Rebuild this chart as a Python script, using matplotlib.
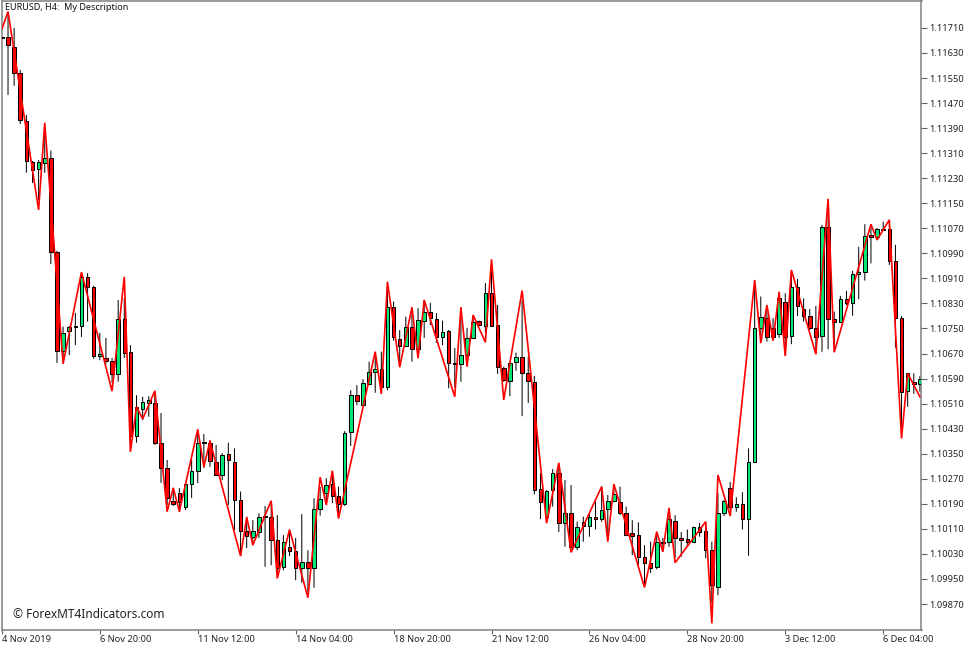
import matplotlib
matplotlib.use("Agg")
import matplotlib.pyplot as plt
import numpy as np
from matplotlib.collections import LineCollection
from matplotlib.patches import Rectangle
from matplotlib.ticker import FormatStrFormatter

# prices in points (1/100000)
opens = [111678,
 111682,111650,111565,111414,111282,111258,111280,111295,110993,
 110679,110742,110754,110759,110915,110882,110661,110656,110646,110605,
 110779,110674,110406,110492,110513,110512,110385,110303,110199,110224,
 110181,110252,110295,110383,110384,110324,110282,110349,110324,110202,
 110104,110085,110101,110150,110149,110074,109989,110053,110040,109984,
 110004,109984,110175,110223,110253,110216,110188,110420,110536,110505,
 110573,110612,110620,110564,110818,110715,110695,110756,110683,110774,
 110804,110779,110724,110742,110639,110635,110665,110721,110773,110759,
 110864,110760,110623,110583,110642,110660,110607,110580,110236,110149,
 110234,110287,110129,110161,110053,110131,110119,110147,110140,110172,
 110200,110197,110160,110096,110092,110019,110000,109989,110066,110067,
 110136,110080,110077,110069,110115,110102,110044,109923,110160,110241,
 110181,110191,110140,110324,110751,110783,110752,110731,110836,110726,
 110883,110812,110790,110751,110726,111073,110779,110772,110843,110830,
 110923,110929,111049,111042,111067,111067,110966,110783,110549,110578,
 110572]
highs = [111684,111755,111710,111576,111432,111285,111288,111375,111318,110998,
 110756,110758,110800,110921,110927,110886,110736,110720,110656,110841,
 110847,110697,110537,110532,110534,110547,110480,110330,110234,110240,
 110256,110330,110426,110413,110394,110378,110352,110385,110367,110229,
 110149,110138,110160,110183,110197,110154,110090,110106,110081,110157,
 110042,110208,110244,110272,110282,110245,110422,110553,110569,110588,
 110644,110672,110676,110899,110836,110745,110788,110815,110815,110841,
 110832,110799,110775,110745,110688,110780,110752,110793,110775,110895,
 110937,110825,110628,110644,110673,110841,110660,110598,110288,110234,
 110301,110304,110266,110250,110133,110149,110157,110197,110245,110218,
 110250,110245,110181,110138,110131,110058,110069,110097,110081,110176,
 110154,110100,110108,110117,110129,110133,110069,110224,110202,110260,
 110211,110227,110367,110878,110852,110809,110783,110867,110863,110931,
 110908,110846,110812,110822,111081,111163,110804,110854,110870,110934,
 111011,111083,111083,111071,111091,111097,111017,110790,110608,110607,
 110598]
lows = [111672,111496,111525,111403,111248,111215,111160,111247,110956,110640,
 110649,110665,110697,110723,110772,110653,110649,110637,110576,110580,
 110656,110359,110385,110458,110468,110378,110257,110186,110183,110165,
 110170,110209,110256,110304,110308,110279,110266,110186,110106,110026,
 110049,110058,110081,109989,109994,109953,109978,110023,109946,109938,
 109909,109922,110152,110197,110192,110160,110184,110375,110505,110504,
 110569,110545,110544,110553,110711,110644,110692,110644,110681,110720,
 110761,110704,110697,110559,110562,110580,110656,110720,110758,110736,
 110755,110605,110580,110534,110615,110470,110512,110220,110141,110138,
 110181,110100,110053,110052,110042,110069,110085,110108,110133,110074,
 110199,110154,110090,110026,109989,109925,109969,109981,110037,110053,
 110017,110021,110053,110066,110085,110016,109873,109898,110151,110170,
 110165,110108,110024,110323,110720,110708,110713,110720,110665,110700,
 110790,110772,110745,110668,110676,110684,110676,110771,110825,110791,
 110844,110903,110958,111040,111064,110953,110689,110400,110500,110541,
 110548]
closes = [111680,
 111654,111565,111416,111286,111256,111282,111295,110994,110678,
 110737,110755,110759,110914,110882,110662,110668,110646,110605,110780,
 110671,110408,110500,110514,110521,110384,110305,110209,110191,110195,
 110252,110295,110383,110387,110328,110282,110346,110330,110202,110104,
 110088,110102,110149,110149,110074,109984,110067,110040,109984,110005,
 109984,110175,110206,110249,110215,110189,110417,110537,110520,110575,
 110612,110620,110564,110818,110722,110695,110754,110683,110776,110804,
 110783,110724,110740,110639,110637,110665,110721,110772,110760,110864,
 110758,110626,110585,110641,110660,110607,110581,110234,110197,110231,
 110289,110129,110161,110053,110115,110119,110147,110140,110170,110200,
 110220,110160,110092,110088,110019,110000,109986,110069,110069,110140,
 110080,110074,110069,110115,110101,110044,109930,110160,110199,110181,
 110191,110140,110324,110751,110786,110722,110723,110847,110724,110883,
 110822,110790,110751,110724,111073,110779,110772,110843,110830,110923,
 110931,111046,111041,111067,111065,110967,110783,110548,110607,110572,
 110588]

zigzag_bar = [0,1,6,7,10,13,18,20,21,22,23,25,27,28,29,32,33,34,39,40,41,44,45,47,50,
 52,53,54,55,61,62,63,65,67,68,69,74,75,76,77,79,80,82,85,89,91,93,98,99,100,
 105,107,108,109,110,115,116,117,119,123,124,125,126,127,128,129,133,135,136,142,143,145,147,148,150]
zigzag_val = [111706,111762,111129,111407,110637,110930,110550,110915,110356,110500,110461,110551,110165,110241,110165,110428,110308,110391,110023,110147,110058,110200,109952,110108,109890,
 110275,110186,110296,110143,110676,110541,110899,110626,110818,110655,110841,110532,110818,110628,110793,110706,110971,110522,110871,110128,110321,110035,110245,110069,110253,
 109923,110101,110037,110177,110002,110133,109808,110282,110151,110905,110703,110825,110711,110867,110662,110937,110668,111164,110674,111083,111033,111097,110399,110607,110532]

date_bars = [0,16,32,48,64,80,96,112,128,144]
date_labels = ["4 Nov 2019","6 Nov 20:00","11 Nov 12:00","14 Nov 04:00","18 Nov 20:00",
               "21 Nov 12:00","26 Nov 04:00","28 Nov 20:00","3 Dec 12:00","6 Dec 04:00"]
price_ticks = [1.11710,1.11630,1.11550,1.11470,1.11390,1.11310,1.11230,1.11150,1.11070,1.10990,
               1.10910,1.10830,1.10750,1.10670,1.10590,1.10510,1.10430,1.10350,1.10270,1.10190,
               1.10110,1.10030,1.09950,1.09870]

assert len(opens)==len(highs)==len(lows)==len(closes)==151
assert len(zigzag_bar)==len(zigzag_val)

W,H = 977,650
FONT = "Noto Sans"
plt.rcParams['font.family'] = FONT
fig = plt.figure(figsize=(W/100,H/100),dpi=100,facecolor='white')
L,R,T,B = 1.5,921.5,1.0,630.0
ax = fig.add_axes([L/W,1-B/H,(R-L)/W,(B-T)/H])
ax.set_xlim(-0.065,150.26)
ax.set_ylim(1.09787,1.11796)

o,h,l,c = [np.array(a)/1e5 for a in (opens,highs,lows,closes)]
idx = np.arange(len(o))
wicks = LineCollection([[(i,a),(i,b)] for i,a,b in zip(idx,l,h)],colors='black',linewidths=0.72,zorder=2)
wicks.set_snap(False)
ax.add_collection(wicks)
bw = 0.58
for i in idx:
    top,bot = max(o[i],c[i]),min(o[i],c[i])
    col = '#00E676' if c[i]>=o[i] else '#FF0000'
    r = Rectangle((i-bw/2,bot),bw,top-bot,facecolor=col,edgecolor='black',linewidth=0.72,zorder=3)
    ax.add_patch(r)
ax.plot(zigzag_bar,np.array(zigzag_val)/1e5,color='#FF0000',lw=1.2,zorder=4,solid_joinstyle='miter')

for s in ax.spines.values():
    s.set_color('#808080'); s.set_linewidth(1.1)
ax.yaxis.tick_right()
ax.set_yticks(price_ticks)
ax.yaxis.set_major_formatter(FormatStrFormatter('%.5f'))
ax.tick_params(axis='y',length=4,width=0.8,color='#606060',labelsize=6.7,pad=1.5,labelcolor='#222222')
ax.set_xticks(date_bars)
ax.set_xticklabels(date_labels,ha='left')
ax.tick_params(axis='x',length=3,width=0.8,color='#606060',labelsize=6.7,pad=0.5,labelcolor='#222222')

fig.text(5/W,1-8/H,"EURUSD, H4:  My Description",fontsize=6.5,color='#111111',va='center',ha='left')
fig.text(13/W,1-615/H,"© ForexMT4Indicators.com",fontsize=8.55,color='#222222',va='center',ha='left')
fig.savefig('out.png',dpi=100,facecolor='white')
